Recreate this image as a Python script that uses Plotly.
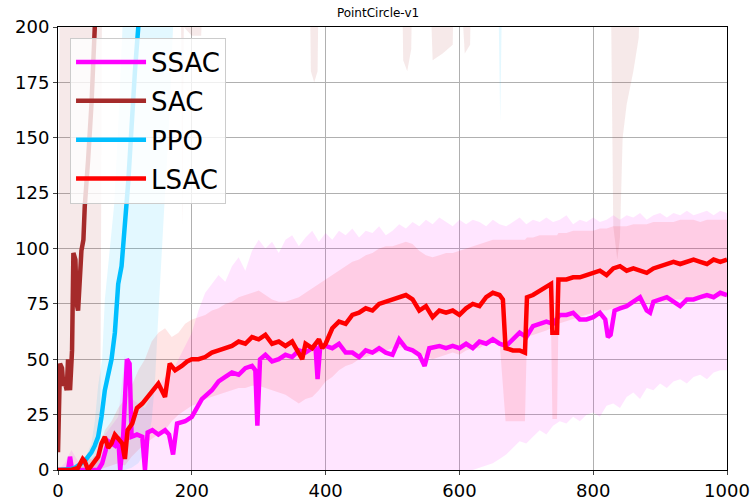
import plotly.graph_objects as go

TITLE = "PointCircle-v1"
X_TICKS = [0, 200, 400, 600, 800, 1000]
Y_TICKS = [0, 25, 50, 75, 100, 125, 150, 175, 200]

# ---------------- SSAC ----------------
SSAC_X = [0, 10, 15, 18, 21, 40, 60, 66, 75, 85, 90, 93, 97, 103, 107, 110, 118, 126, 130, 134,
          141, 150, 160, 166, 172, 178, 190, 200, 208, 215, 230, 240, 250, 260, 270, 280, 290, 295, 298, 302,
          310, 320, 330, 340, 350, 360, 370, 380, 385, 388, 392, 400, 410, 420, 430, 440, 450, 460, 470, 480,
          490, 500, 510, 520, 530, 540, 548, 555, 570, 580, 590, 600, 610, 620, 630, 640, 650, 660, 670, 680,
          690, 700, 710, 720, 730, 740, 750, 760, 770, 780, 790, 800, 810, 818, 822, 826, 832, 840, 850, 860,
          870, 880, 885, 890, 900, 910, 920, 930, 940, 950, 960, 970, 980, 990, 1000]
SSAC_Y = [0, 0, 0, 6, 0, 0, 0, 3, 13, 11, 15, 0, 13, 50, 48, 15, 16, 15, 0, 17,
          18, 16, 18, 16, 7, 21, 22, 24, 28, 32, 36, 40, 42, 44, 43, 46, 47, 45, 20, 50,
          52, 49, 50, 52, 51, 54, 53, 55, 55, 41, 56, 56, 55, 57, 53, 53, 51, 54, 53, 55,
          53, 52, 59, 55, 54, 52, 47, 55, 56, 55, 56, 55, 57, 55, 58, 57, 59, 57, 56, 59,
          62, 60, 65, 66, 67, 66, 70, 70, 71, 68, 68, 69, 71, 68, 60, 61, 72, 73, 74, 76,
          78, 72, 71, 76, 77, 78, 76, 74, 77, 77, 78, 79, 78, 80, 79]
SSAC_BX = list(range(0, 1001, 10))
SSAC_LO = [0] * 57 + [0, 0, 0, 0, 0, 0, 1, 2, 3, 5, 7, 10, 13, 12, 15, 18, 16, 20, 22, 21,
                      24, 22, 25, 26, 24, 29, 30, 28, 33, 35, 32, 37, 36, 39, 37, 40, 41, 39, 42, 43,
                      41, 44, 45, 45]
SSAC_HI = [0, 3, 9, 4, 2, 3, 6, 16, 20, 24, 52, 32, 30, 28, 34, 38, 42, 44, 50, 56,
           62, 72, 80, 84, 88, 85, 92, 96, 90, 99, 104, 100, 103, 98, 104, 106, 101, 105, 108, 103,
           107, 104, 108, 106, 109, 105, 108, 107, 110, 106, 108, 111, 109, 112, 110, 113, 111, 114, 112, 110,
           113, 111, 113, 112, 110, 113, 111, 110, 112, 114, 111, 113, 112, 114, 112, 113, 115, 111, 113, 112,
           114, 112, 113, 115, 113, 115, 114, 116, 113, 115, 116, 114, 116, 115, 117, 115, 116, 117, 115, 117,
           116]

# ---------------- SAC ----------------
SAC_X = [0, 3, 6, 8, 10, 13, 15, 18, 21, 23, 26, 28, 30, 33, 35, 38, 40, 45, 50, 55, 60, 70, 100, 300, 600, 1000]
SAC_Y = [8, 48, 46, 38, 40, 36, 50, 36, 54, 98, 95, 75, 72, 92, 99, 104, 119, 140, 165, 200, 225, 260, 300, 350, 380, 400]
SAC_BX = [0, 5, 10, 20, 30, 40, 50, 60, 63, 66, 100, 180, 184, 186, 188, 200, 214, 218, 376, 378,
          383, 388, 390, 514, 516, 522, 528, 530, 555, 560, 575, 590, 592, 600, 608, 616, 618, 826, 830, 836,
          840, 844, 850, 860, 868, 872, 1000]
SAC_LO = [0, 0, 0, 0, 0, 0, 0, 0, 0, 230, 240, 230, 200, 110, 200, 196, 196, 230, 230, 180,
          175, 180, 230, 230, 185, 180, 190, 230, 230, 185, 188, 192, 230, 230, 188, 192, 230, 230, 110, 95,
          105, 150, 165, 180, 195, 230, 250]
SAC_HI = [30, 400, 400, 400, 400, 400, 400, 400, 400, 400, 400, 400, 400, 400, 400, 400, 400, 400, 400, 400,
          400, 400, 400, 400, 400, 400, 400, 400, 400, 400, 400, 400, 400, 400, 400, 400, 400, 400, 400, 400,
          400, 400, 400, 400, 400, 400, 400]

# ---------------- PPO ----------------
PPO_X = [0, 10, 20, 25, 30, 40, 45, 50, 55, 60, 65, 70, 75, 80, 85, 90, 95, 97, 100, 103,
         105, 110, 112, 115, 120, 130, 150, 200, 300, 500, 700, 1000]
PPO_Y = [0, 0, 0.5, 1, 2, 4, 6, 8, 11, 15, 24, 36, 43, 50, 62, 84, 92, 99, 110, 122,
         130, 155, 167, 180, 200, 240, 280, 300, 320, 330, 340, 350]
PPO_BX = [0, 20, 30, 40, 50, 55, 60, 66, 70, 78, 84, 90, 96, 100, 110, 120, 130, 140, 145, 150,
          155, 160, 165, 172, 180, 300, 650, 658, 661, 664, 700, 1000]
PPO_LO = [0, 0, 0, 0, 0, 0, 0, 0, 0, 0, 0, 0, 0, 0, 1, 3, 8, 22, 40, 70,
          100, 125, 150, 200, 230, 260, 240, 220, 157, 220, 260, 300]
PPO_HI = [0.5, 1, 2, 5, 12, 22, 38, 50, 77, 100, 120, 155, 200, 225, 260, 300, 330, 350, 360, 370,
          380, 390, 400, 420, 440, 460, 470, 470, 470, 470, 480, 500]

# ---------------- LSAC ----------------
LSAC_X = [0, 10, 20, 30, 37, 40, 45, 50, 60, 65, 70, 75, 80, 85, 90, 96, 100, 104, 111, 118,
          126, 134, 141, 150, 155, 160, 167, 175, 185, 193, 200, 210, 220, 230, 240, 250, 260, 270, 280, 290,
          300, 310, 320, 330, 340, 350, 360, 365, 370, 380, 390, 395, 400, 410, 420, 430, 440, 450, 460, 470,
          480, 490, 500, 510, 520, 530, 540, 550, 560, 570, 580, 590, 600, 610, 620, 630, 640, 650, 660, 665,
          669, 680, 690, 698, 701, 710, 720, 730, 737, 739, 746, 748, 760, 770, 780, 790, 800, 810, 820, 830,
          840, 850, 860, 870, 880, 890, 900, 910, 920, 930, 940, 950, 960, 970, 980, 990, 1000]
LSAC_Y = [0, 0, 0, 1, 5, 4, 0, 2, 6, 12, 15, 10, 12, 16, 14, 12, 5, 18, 21, 28,
          30, 33, 36, 39, 36, 33, 48, 45, 47, 49, 50, 50, 51, 53, 54, 55, 56, 58, 57, 60,
          59, 61, 57, 58, 56, 58, 52, 50, 57, 55, 59, 55, 57, 64, 67, 66, 70, 71, 73, 72,
          75, 76, 77, 78, 79, 77, 72, 74, 69, 72, 71, 72, 70, 73, 75, 74, 78, 80, 79, 77,
          55, 54, 54, 53, 78, 79, 81, 83, 84, 62, 62, 86, 86, 87, 87, 88, 89, 90, 88, 91,
          92, 90, 91, 90, 89, 91, 92, 93, 94, 93, 94, 95, 94, 93, 95, 94, 95]
LSAC_BX = list(range(0, 661, 10)) + [669, 680, 690, 698, 701, 710, 720, 730, 737, 739, 746, 748] + list(range(760, 1001, 10))
LSAC_LO = [0, 0, 0, 0, 0, 0, 0, 1, 2, 3, 2, 6, 9, 12, 14, 16, 18, 22, 25, 27,
           29, 30, 32, 33, 34, 35, 36, 37, 37, 38, 38, 37, 36, 35, 34, 32, 30, 32, 33, 36,
           40, 42, 45, 47, 48, 50, 51, 52, 53, 54, 55, 55, 56, 55, 52, 51, 50, 51, 52, 53,
           52, 54, 55, 55, 57, 58, 58,
           22, 22, 22, 22, 60, 61, 62, 63, 64, 23, 23, 66,
           67, 68, 69, 70, 71, 72, 72, 73, 74, 74, 75, 75, 75, 76, 76, 76, 77, 77, 77, 78,
           78, 77, 78, 78, 78]
LSAC_HI = [0, 0, 1, 3, 6, 5, 8, 18, 22, 28, 32, 38, 45, 50, 58, 62, 64, 60, 62, 66,
           68, 69, 70, 72, 73, 75, 76, 78, 79, 80, 81, 79, 77, 76, 76, 77, 78, 80, 82, 84,
           86, 88, 90, 92, 94, 95, 97, 98, 100, 101, 101, 102, 103, 102, 99, 97, 96, 97, 98, 98,
           99, 100, 101, 102, 103, 104, 104,
           104, 104, 104, 104, 105, 105, 106, 106, 106, 106, 106, 107,
           107, 108, 108, 108, 108, 109, 109, 110, 110, 110, 111, 111, 111, 112, 112, 112, 112, 113, 113, 113,
           112, 113, 113, 113, 113]

SERIES = [
    ("SSAC", "#ff00ff", "rgba(255,0,255,0.10)", SSAC_X, SSAC_Y, SSAC_BX, SSAC_LO, SSAC_HI),
    ("SAC", "#a52a2a", "rgba(165,42,42,0.10)", SAC_X, SAC_Y, SAC_BX, SAC_LO, SAC_HI),
    ("PPO", "#00bfff", "rgba(0,191,255,0.11)", PPO_X, PPO_Y, PPO_BX, PPO_LO, PPO_HI),
    ("LSAC", "#ff0000", "rgba(255,0,0,0.10)", LSAC_X, LSAC_Y, LSAC_BX, LSAC_LO, LSAC_HI),
]

fig = go.Figure()

# shaded bands (drawn under all lines)
for name, col, fcol, x, y, bx, lo, hi in SERIES:
    fig.add_trace(go.Scatter(
        x=list(bx) + list(bx)[::-1],
        y=list(hi) + list(lo)[::-1],
        fill="toself", fillcolor=fcol, mode="lines",
        line=dict(width=0, color=fcol), hoverinfo="skip", showlegend=False,
    ))

# mean lines
for name, col, fcol, x, y, bx, lo, hi in SERIES:
    fig.add_trace(go.Scatter(
        x=x, y=y, mode="lines", name=name, legendgroup=name,
        line=dict(color=col, width=4.5),
    ))

fig.update_layout(
    width=756, height=504,
    margin=dict(l=58, r=29, t=27, b=34, autoexpand=False),
    paper_bgcolor="white", plot_bgcolor="white",
    font=dict(family="DejaVu Sans", color="black"),
    title=dict(text=TITLE, x=0.5, xanchor="center", y=0.975, yanchor="middle",
               font=dict(size=12, family="DejaVu Sans", color="black")),
    showlegend=True,
    legend=dict(x=0.018, y=0.976, xanchor="left", yanchor="top",
                bgcolor="rgba(255,255,255,0.8)", bordercolor="#cccccc", borderwidth=1,
                font=dict(size=26, family="DejaVu Sans", color="black"),
                tracegroupgap=2, itemwidth=70),
)
fig.update_xaxes(range=[0, 1000], tickvals=X_TICKS, ticks="outside", ticklen=4,
                 tickfont=dict(size=18), showgrid=True, gridcolor="#b0b0b0", gridwidth=1,
                 showline=True, linecolor="black", linewidth=1, mirror=True, zeroline=False,
                 automargin=False)
fig.update_yaxes(range=[0, 200], tickvals=Y_TICKS, ticks="outside", ticklen=4,
                 tickfont=dict(size=18), showgrid=True, gridcolor="#b0b0b0", gridwidth=1,
                 showline=True, linecolor="black", linewidth=1, mirror=True, zeroline=False,
                 automargin=False)

fig.write_html("out.html")
